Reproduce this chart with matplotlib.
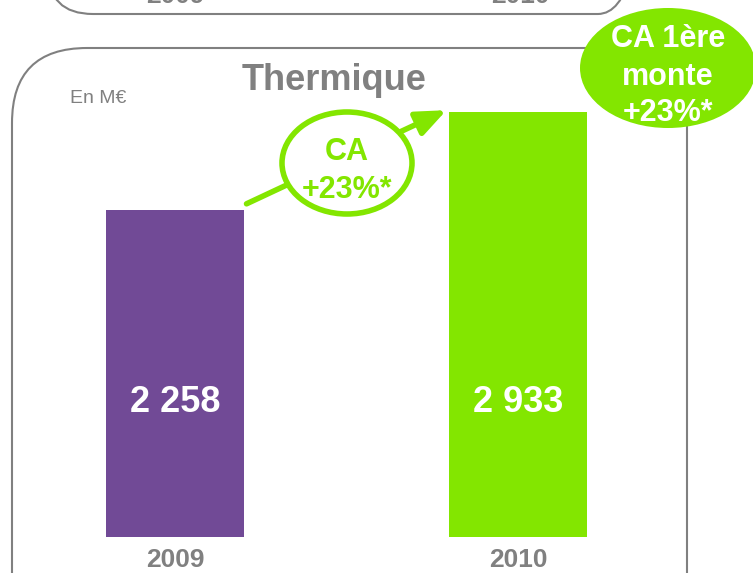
import matplotlib.pyplot as plt
from matplotlib.patches import FancyBboxPatch, Ellipse, FancyArrowPatch

plt.rcParams['font.family'] = ['Liberation Sans', 'DejaVu Sans']

years = ['2009', '2010']
values = [2258, 2933]
value_labels = ['2 258', '2 933']
bar_colors = ['#714A96', '#83E600']
title = 'Thermique'
unit = 'En M€'
growth_lines = ['CA', '+23%*']
oe_lines = ['CA 1ère', 'monte', '+23%*']

W, H = 753, 573
GRAY = '#808080'
GREEN = '#83E600'

fig = plt.figure(figsize=(W / 100, H / 100), dpi=100)

# overlay in pixel coords for the box, bubbles and arrow
deco = fig.add_axes([0, 0, 1, 1])
deco.set_xlim(0, W)
deco.set_ylim(H, 0)
deco.axis('off')

# bar axes: bottom at y=537 px, 3000 -> y=102 px
bottom_px, top_px = 537, 102.3
ax = fig.add_axes([3.5 / W, (H - bottom_px) / H, 686 / W, (bottom_px - top_px) / H])
ax.set_xlim(-0.5, 1.5)
ax.set_ylim(0, 3000)
ax.axis('off')
ax.patch.set_alpha(0)

x = range(len(years))
ax.bar(x, values, width=0.402, color=bar_colors, zorder=2)
for i, lab in enumerate(value_labels):
    ax.text(i, 862, lab, ha='center', va='baseline', color='white',
            fontsize=26, fontweight='bold', zorder=3)
    ax.text(i, -207, years[i], ha='center', va='baseline', color=GRAY,
            fontsize=19, fontweight='bold', clip_on=False)

# upper box (cut off) and main box
deco.add_patch(FancyBboxPatch((48, -200), 595, 214, boxstyle='round,pad=0,rounding_size=45',
                              fc='none', ec=GRAY, lw=1.5, zorder=0))
deco.add_patch(FancyBboxPatch((12, 48), 675, 620, boxstyle='round,pad=0,rounding_size=75',
                              fc='none', ec=GRAY, lw=1.5, zorder=0))
deco.text(175, 3, '2009', ha='center', va='baseline', color=GRAY, fontsize=19, fontweight='bold')
deco.text(520, 3, '2010', ha='center', va='baseline', color=GRAY, fontsize=19, fontweight='bold')

deco.text(334, 90, title, ha='center', va='baseline', color=GRAY, fontsize=26, fontweight='bold')
deco.text(98, 103, unit, ha='center', va='baseline', color=GRAY, fontsize=14)

# growth arrow with bubble
deco.add_patch(FancyArrowPatch((244, 205), (449, 109), arrowstyle='-|>,head_length=12,head_width=5',
                               mutation_scale=1.5, color=GREEN, lw=4, zorder=3))
deco.add_patch(Ellipse((347, 163), 130, 102, fc='white', ec=GREEN, lw=4, zorder=4))
for line, yb in zip(growth_lines, [160, 198]):
    deco.text(347, yb, line, ha='center', va='baseline', color=GREEN, fontsize=22,
              fontweight='bold', zorder=5)

deco.add_patch(Ellipse((668, 68), 176, 120, fc=GREEN, ec='none', zorder=4))
for line, yb in zip(oe_lines, [47, 85, 121]):
    deco.text(668, yb, line, ha='center', va='baseline', color='white', fontsize=22,
              fontweight='bold', zorder=5)

fig.savefig('out.png', dpi=100)
